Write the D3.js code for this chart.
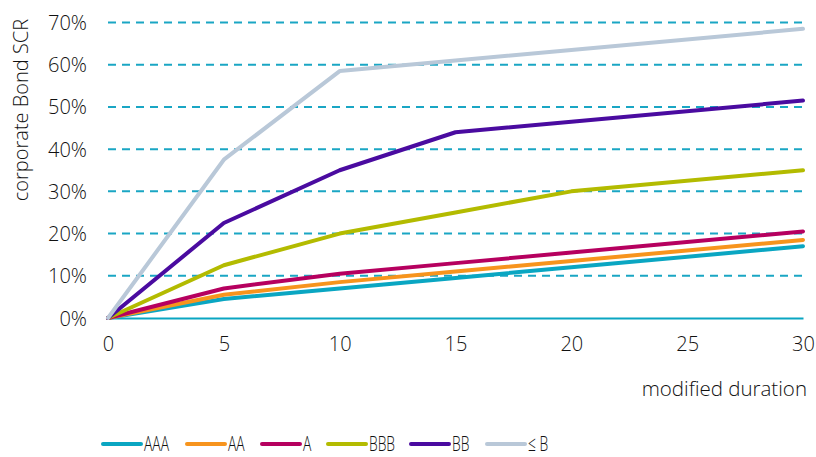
<!DOCTYPE html>
<html>
<head>
<meta charset="utf-8">
<script src="https://cdn.jsdelivr.net/npm/d3@7"></script>
<style>
  body { margin: 0; background: #fff; }
  text { font-family: "Open Sans", sans-serif; font-weight: 300; fill: #111; }
</style>
</head>
<body>
<svg id="chart" width="816" height="457"></svg>
<script>
const durations = [0, 5, 10, 15, 20, 30];
const ratings = ["AAA", "AA", "A", "BBB", "BB", "≤ B"];
const colors = ["#0aa6c2", "#f7941d", "#b6005f", "#b3bb00", "#4a0ba0", "#b9c8d8"];
const aaa = [0, 4.5, 7.0, 9.5, 12.0, 17.0];
const aa = [0, 5.5, 8.5, 11.0, 13.5, 18.5];
const a = [0, 7.0, 10.5, 13.0, 15.5, 20.5];
const bbb = [0, 12.5, 20.0, 25.0, 30.0, 35.0];
const bb = [0, 22.5, 35.0, 44.0, 46.5, 51.5];
const b = [0, 37.5, 58.5, 61.0, 63.5, 68.5];
const yTicks = [0, 10, 20, 30, 40, 50, 60, 70];
const xTicks = [0, 5, 10, 15, 20, 25, 30];

const seriesValues = [aaa, aa, a, bbb, bb, b];
const series = ratings.map((name, i) => ({
  name,
  color: colors[i],
  points: durations.map((d, j) => ({ d, v: seriesValues[i][j] }))
}));

const svg = d3.select("#chart");
const plotLeft = 108, plotRight = 803, plotTop = 22.5, plotBottom = 318;

const x = d3.scaleLinear([0, 30], [plotLeft, plotRight]);
const y = d3.scaleLinear([0, 70], [plotBottom, plotTop]);

// grid
svg.append("g")
  .selectAll("line")
  .data(yTicks.filter((t) => t > 0))
  .join("line")
  .attr("x1", plotLeft).attr("x2", plotRight)
  .attr("y1", (t) => y(t)).attr("y2", (t) => y(t))
  .attr("stroke", "#1aa6c4")
  .attr("stroke-width", 2)
  .attr("stroke-dasharray", "8,6");

// axes
const axisY = d3.axisLeft(y).tickValues(yTicks).tickFormat((t) => t + "%").tickSize(0).tickPadding(21);
const gy = svg.append("g").attr("transform", `translate(${plotLeft},0)`).call(axisY);
gy.select(".domain").remove();
gy.selectAll("text").style("font-size", "20px").attr("dy", "0.35em");

const axisX = d3.axisBottom(x).tickValues(xTicks).tickSize(0).tickPadding(19);
const gx = svg.append("g").attr("transform", `translate(0,${plotBottom})`).call(axisX);
gx.select(".domain").attr("stroke", "#0aa6c2").attr("stroke-width", 2);
gx.selectAll("text").style("font-size", "20px").attr("dy", "0.71em");

// lines
const line = d3.line().x((p) => x(p.d)).y((p) => y(p.v));
svg.append("g")
  .selectAll("path")
  .data(series)
  .join("path")
  .attr("d", (s) => line(s.points))
  .attr("fill", "none")
  .attr("stroke", (s) => s.color)
  .attr("stroke-width", 4)
  .attr("stroke-linejoin", "round")
  .attr("stroke-linecap", "round");

// axis titles
svg.append("text")
  .attr("transform", "translate(21,110) rotate(-90)")
  .attr("text-anchor", "middle")
  .attr("dy", "0.35em")
  .style("font-size", "20px")
  .text("corporate Bond SCR");

svg.append("text")
  .attr("x", 807).attr("y", 389)
  .attr("dy", "0.35em")
  .attr("text-anchor", "end")
  .style("font-size", "20.5px")
  .text("modified duration");

// legend
const legendX = [103, 187, 262, 328, 411, 487];
const lg = svg.append("g")
  .selectAll("g")
  .data(series)
  .join("g")
  .attr("transform", (s, i) => `translate(${legendX[i]},444)`);
lg.append("line")
  .attr("x1", 0).attr("x2", 38)
  .attr("stroke", (s) => s.color)
  .attr("stroke-width", 4)
  .attr("stroke-linecap", "round");
lg.append("text")
  .attr("transform", "translate(41,0) scale(0.66,1)")
  .attr("dy", "0.34em")
  .style("font-size", "21px")
  .text((s) => s.name);
</script>
</body>
</html>
